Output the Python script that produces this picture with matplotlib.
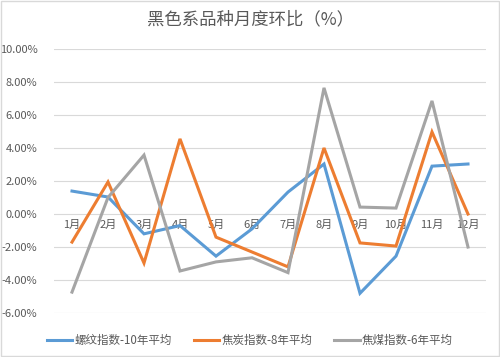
import matplotlib
matplotlib.use("Agg")
import matplotlib.pyplot as plt
from matplotlib.ticker import FuncFormatter

plt.rcParams['font.family'] = ['Noto Sans CJK SC', 'DejaVu Sans']

# データ
months = ["1月", "2月", "3月", "4月", "5月", "6月", "7月", "8月", "9月", "10月", "11月", "12月"]
rebar = [1.39, 1.03, -1.2, -0.7, -2.55, -0.9, 1.33, 3.03, -4.8, -2.55, 2.9, 3.03]
coke = [-1.7, 1.94, -2.97, 4.55, -1.4, -2.3, -3.2, 4.0, -1.75, -1.94, 4.97, 0.0]
coking_coal = [-4.73, 1.0, 3.57, -3.45, -2.9, -2.65, -3.55, 7.64, 0.42, 0.36, 6.85, -2.0]
series_names = ["螺纹指数-10年平均", "焦炭指数-8年平均", "焦煤指数-6年平均"]
colors = ["#5B9BD5", "#ED7D31", "#A5A5A5"]
text_color = "#595959"

fig = plt.figure(figsize=(5, 3.57), dpi=100)
ax = fig.add_axes([0.108, 0.123, 0.864, 0.74])

x = list(range(len(months)))
for vals, name, c in zip([rebar, coke, coking_coal], series_names, colors):
    ax.plot(x, vals, color=c, linewidth=2.2, label=name, solid_joinstyle="miter")

ax.set_xlim(-0.5, 11.5)
ax.set_ylim(-6, 10)
ax.set_yticks(range(-6, 11, 2))
ax.yaxis.set_major_formatter(FuncFormatter(lambda v, p: f"{v:.2f}%"))
ax.grid(axis="y", color="#D9D9D9", linewidth=0.8)
ax.set_axisbelow(True)

# X軸は0の位置
ax.spines["bottom"].set_position(("data", 0))
ax.spines["bottom"].set_visible(False)
for s in ["left", "right", "top"]:
    ax.spines[s].set_visible(False)
ax.set_xticks(x)
ax.set_xticklabels(months)
ax.tick_params(axis="x", length=0, pad=4, labelsize=8, labelcolor=text_color)
ax.tick_params(axis="y", length=0, pad=12, labelsize=8, labelcolor=text_color)

fig.suptitle("黑色系品种月度环比（%）", x=0.5, y=0.97, fontsize=12.5, color=text_color)

fig.legend(loc="lower center", bbox_to_anchor=(0.5, 0.0), ncol=3, frameon=False,
           fontsize=8.3, labelcolor=text_color, handlelength=2.2, handletextpad=0.2,
           columnspacing=1.9)

# 外枠
fig.patches.append(plt.Rectangle((0.002, 0.002), 0.996, 0.996, transform=fig.transFigure,
                                 fill=False, edgecolor="#D9D9D9", linewidth=1))

fig.savefig("out.png", dpi=100)
